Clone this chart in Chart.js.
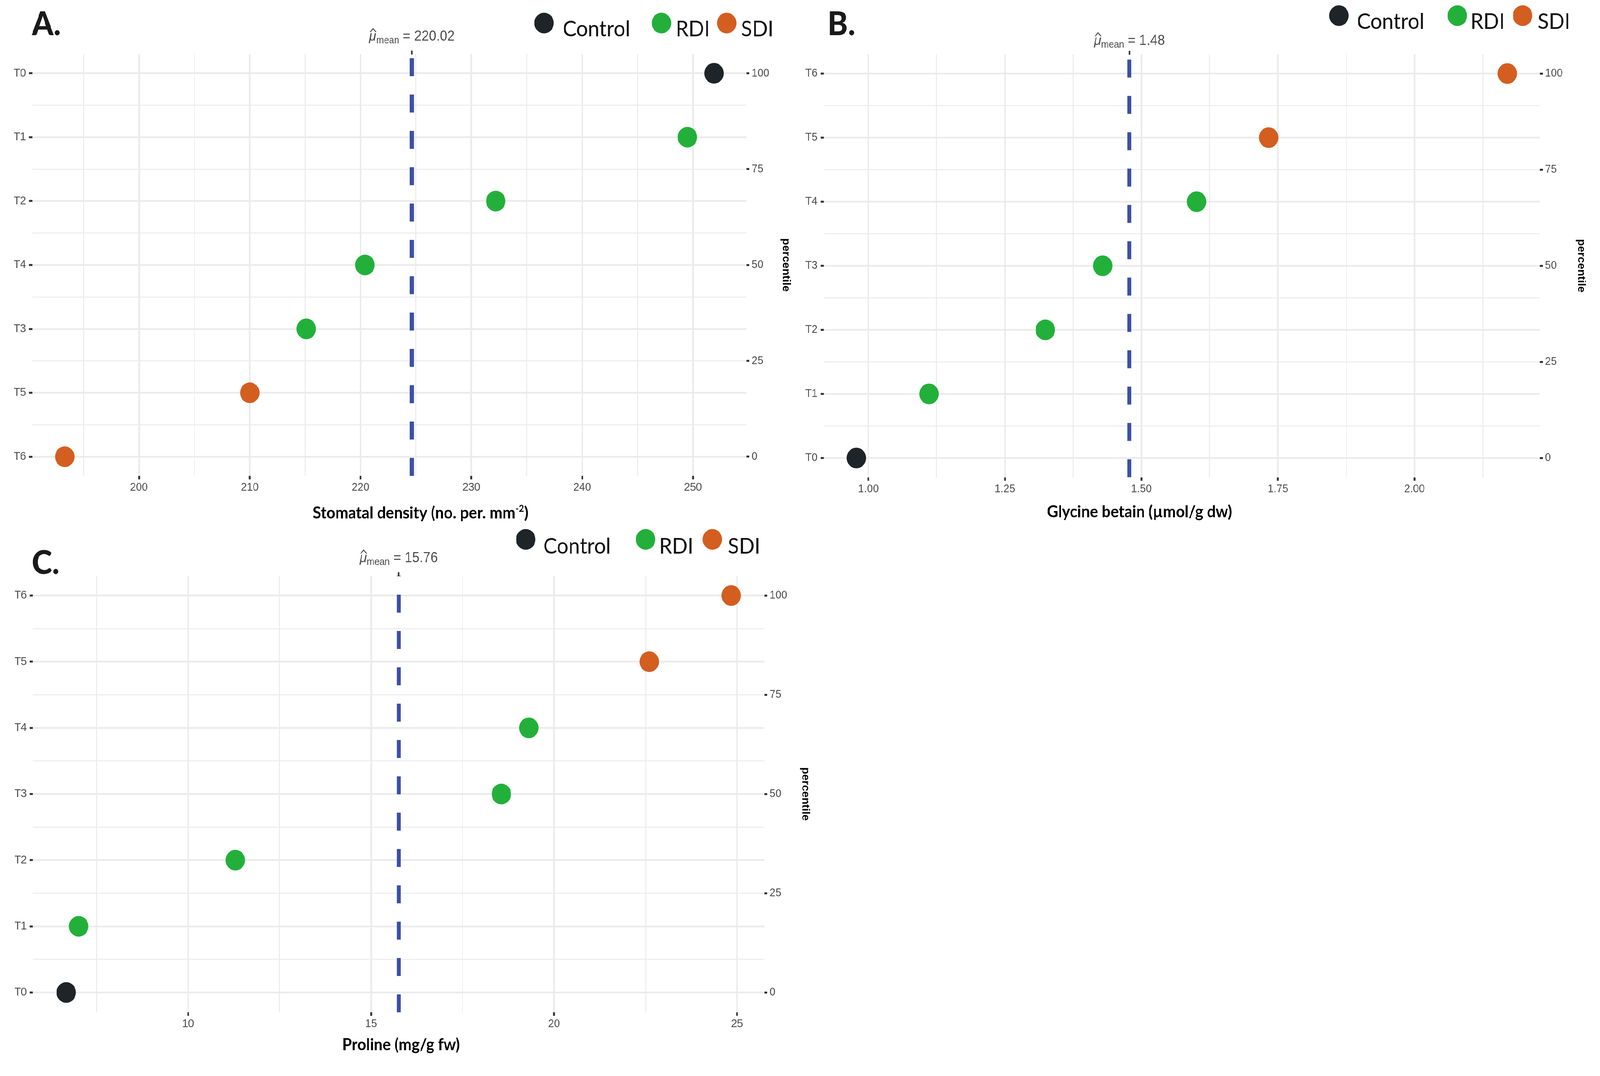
<!DOCTYPE html>
<html>
<head>
<meta charset="utf-8">
<script src="https://cdn.jsdelivr.net/npm/chart.js@4.4.1/dist/chart.umd.min.js"></script>
<style>
  html, body { margin: 0; padding: 0; background: #ffffff; overflow: hidden; }
  #page { width: 4364px; height: 2754px; position: absolute; left: 0; top: 0; transform-origin: 0 0; background: #ffffff; }
  canvas { position: absolute; }
</style>
</head>
<body>
<div id="page">
  <canvas id="panelA"></canvas>
  <canvas id="panelB"></canvas>
  <canvas id="panelC"></canvas>
</div>
<script>
// groups and colours
const groups = ['Control', 'RDI', 'SDI'];
const groupColors = ['#1e2427', '#22b03a', '#d35e20'];
const treatmentGroup = { T0: 'Control', T1: 'RDI', T2: 'RDI', T3: 'RDI', T4: 'RDI', T5: 'SDI', T6: 'SDI' };
const percentileTicks = [0, 25, 50, 75, 100];

// A. rows listed from top to bottom
const stomataTreatments = ['T0', 'T1', 'T2', 'T4', 'T3', 'T5', 'T6'];
const stomataValues = [251.9, 249.5, 232.2, 220.4, 215.1, 210.0, 193.3];
const stomataTicks = [200, 210, 220, 230, 240, 250];
const stomataMeanText = '220.02';

// B.
const glycineTreatments = ['T6', 'T5', 'T4', 'T3', 'T2', 'T1', 'T0'];
const glycineValues = [2.170, 1.733, 1.601, 1.429, 1.324, 1.111, 0.978];
const glycineTicks = [1.00, 1.25, 1.50, 1.75, 2.00];
const glycineMeanText = '1.48';

// C.
const prolineTreatments = ['T6', 'T5', 'T4', 'T3', 'T2', 'T1', 'T0'];
const prolineValues = [24.84, 22.60, 19.31, 18.56, 11.29, 7.01, 6.67];
const prolineTicks = [10, 15, 20, 25];
const prolineMeanText = '15.76';

const panels = [
  {
    id: 'panelA', letter: 'A.',
    treatments: stomataTreatments, values: stomataValues, ticks: stomataTicks, decimals: 0,
    meanText: stomataMeanText,
    title: [['Stomatal density (no. per. mm', false], ['-2', true], [')', false]],
    box: { left: 0, top: 0, width: 2182, height: 1377 },
    plot: { l: 88, t: 138.5, r: 2036, b: 1218 },
    letterPos: { x: 87, y: 90 },
    legendPos: { dots: [1484, 1804, 1982], texts: [1535, 1843, 2021], dotY: 59, baseline: 93 },
    meanBaseline: 104,
    titlePos: { x: 1147, y: 1327 },
    pctCenter: 2143
  },
  {
    id: 'panelB', letter: 'B.',
    treatments: glycineTreatments, values: glycineValues, ticks: glycineTicks, decimals: 2,
    meanText: glycineMeanText,
    title: [['Glycine betain (\u00b5mol/g dw)', false]],
    box: { left: 2182, top: 0, width: 2182, height: 1377 },
    plot: { l: 65, t: 139, r: 2018, b: 1221.5 },
    letterPos: { x: 75, y: 90 },
    legendPos: { dots: [1470, 1793, 1971], texts: [1519, 1829, 2012], dotY: 40, baseline: 74 },
    meanBaseline: 115,
    titlePos: { x: 926, y: 1324 },
    pctCenter: 2130
  },
  {
    id: 'panelC', letter: 'C.',
    treatments: prolineTreatments, values: prolineValues, ticks: prolineTicks, decimals: 0,
    meanText: prolineMeanText,
    title: [['Proline (mg/g fw)', false]],
    box: { left: 0, top: 1330, width: 2240, height: 1424 },
    plot: { l: 90, t: 143.5, r: 2085, b: 1261 },
    letterPos: { x: 87, y: 139 },
    legendPos: { dots: [1434, 1761, 1943], texts: [1482, 1798, 1985], dotY: 50.5, baseline: 87 },
    meanBaseline: 109,
    titlePos: { x: 1094, y: 1358 },
    pctCenter: 2196
  }
];

// the browser caps the viewport width, so stretch the 4364 x 2754 layout over it
const vw = window.innerWidth || 4364;
const vh = window.innerHeight || 2754;
document.getElementById('page').style.transform = 'scale(' + (vw / 4364) + ',' + (vh / 2754) + ')';

const tickFont = { family: '"Liberation Sans", Arial, sans-serif', size: 29 };
const gridStyle = {
  color: '#ebebeb',
  lineWidth: c => (c.tick && c.tick.isMajor ? 4.5 : 2.5),
  tickColor: c => (c.tick && c.tick.isMajor ? '#333333' : 'rgba(0,0,0,0)'),
  tickWidth: 5,
  tickLength: 9
};

function drawMeanLabel(ctx, x, baseline, text) {
  ctx.save();
  ctx.fillStyle = '#4d4d4d';
  ctx.strokeStyle = '#4d4d4d';
  ctx.textBaseline = 'alphabetic';
  ctx.textAlign = 'left';
  ctx.font = 'italic 36px "Liberation Sans", Arial, sans-serif';
  const wMu = ctx.measureText('\u03bc').width;
  ctx.font = '25px "Liberation Sans", Arial, sans-serif';
  const wSub = ctx.measureText('mean').width;
  ctx.font = '36px "Liberation Sans", Arial, sans-serif';
  const rest = ' = ' + text;
  const wRest = ctx.measureText(rest).width;
  const x0 = x - (wMu + wSub + wRest) / 2;
  ctx.font = 'italic 36px "Liberation Sans", Arial, sans-serif';
  ctx.fillText('\u03bc', x0, baseline);
  ctx.lineWidth = 2.5;
  ctx.beginPath();
  ctx.moveTo(x0 + 3, baseline - 22);
  ctx.lineTo(x0 + 11, baseline - 31);
  ctx.lineTo(x0 + 19, baseline - 22);
  ctx.stroke();
  ctx.font = '25px "Liberation Sans", Arial, sans-serif';
  ctx.fillText('mean', x0 + wMu, baseline + 7);
  ctx.font = '36px "Liberation Sans", Arial, sans-serif';
  ctx.fillText(rest, x0 + wMu + wSub, baseline);
  ctx.restore();
}

function buildPanel(p) {
  const canvas = document.getElementById(p.id);
  canvas.width = p.box.width;
  canvas.height = p.box.height;
  canvas.style.left = p.box.left + 'px';
  canvas.style.top = p.box.top + 'px';
  canvas.style.width = p.box.width + 'px';
  canvas.style.height = p.box.height + 'px';

  const n = p.treatments.length;
  const rowPct = i => 100 - i * 100 / (n - 1);

  const datasets = groups.map((g, gi) => ({
    label: g,
    data: p.treatments
      .map((t, i) => ({ x: p.values[i], y: rowPct(i), t: t }))
      .filter(d => treatmentGroup[d.t] === g),
    backgroundColor: groupColors[gi],
    borderWidth: 0,
    pointRadius: 26.5,
    pointHoverRadius: 26.5,
    clip: false
  }));

  const lo = Math.min(...p.values);
  const hi = Math.max(...p.values);
  const xMin = lo - (hi - lo) * 0.05;
  const xMax = hi + (hi - lo) * 0.05;
  const mean = p.values.reduce((a, b) => a + b, 0) / n;

  const step = p.ticks[1] - p.ticks[0];
  const xTicks = p.ticks.map(v => ({ value: v, isMajor: true, text: v.toFixed(p.decimals) }));
  [p.ticks[0] - step / 2, ...p.ticks.map(v => v + step / 2)].forEach(v => {
    if (v >= xMin && v <= xMax) xTicks.push({ value: v, isMajor: false, text: '' });
  });
  xTicks.sort((a, b) => a.value - b.value);

  const yTicks = [];
  for (let i = 0; i < n; i++) {
    yTicks.push({ value: rowPct(i), isMajor: true, text: p.treatments[i] });
    if (i < n - 1) yTicks.push({ value: (rowPct(i) + rowPct(i + 1)) / 2, isMajor: false, text: '' });
  }
  yTicks.sort((a, b) => a.value - b.value);

  const decor = {
    id: 'decor' + p.id,
    beforeDatasetsDraw(chart) {
      const ctx = chart.ctx;
      const area = chart.chartArea;
      const x = chart.scales.x.getPixelForValue(mean);
      ctx.save();
      ctx.strokeStyle = '#3c50a8';
      ctx.lineWidth = 11;
      ctx.lineCap = 'butt';
      ctx.setLineDash([46, 47]);
      ctx.beginPath();
      ctx.moveTo(x, area.bottom);
      ctx.lineTo(x, area.top);
      ctx.stroke();
      ctx.setLineDash([]);
      ctx.fillStyle = '#333333';
      ctx.fillRect(x - 2, area.top - 9, 4, 10);
      ctx.restore();
      drawMeanLabel(ctx, x, p.meanBaseline, p.meanText);
    },
    afterDraw(chart) {
      const ctx = chart.ctx;
      ctx.save();
      ctx.textBaseline = 'alphabetic';
      ctx.textAlign = 'left';

      ctx.fillStyle = '#1a1a1a';
      ctx.font = '900 84px Lato, "Open Sans", sans-serif';
      ctx.fillText(p.letter, p.letterPos.x, p.letterPos.y);

      const lg = p.legendPos;
      groups.forEach((g, gi) => {
        ctx.fillStyle = groupColors[gi];
        ctx.beginPath();
        ctx.arc(lg.dots[gi], lg.dotY, 26.5, 0, Math.PI * 2);
        ctx.fill();
        ctx.fillStyle = '#111111';
        ctx.font = '56px Lato, "Open Sans", sans-serif';
        ctx.fillText(g, lg.texts[gi], lg.baseline);
      });

      const mainFont = 'bold 42px Lato, "Open Sans", sans-serif';
      const supFont = 'bold 25px Lato, "Open Sans", sans-serif';
      let total = 0;
      p.title.forEach(([s, sup]) => {
        ctx.font = sup ? supFont : mainFont;
        total += ctx.measureText(s).width;
      });
      let tx = p.titlePos.x - total / 2;
      ctx.fillStyle = '#000000';
      p.title.forEach(([s, sup]) => {
        ctx.font = sup ? supFont : mainFont;
        ctx.fillText(s, tx, p.titlePos.y - (sup ? 17 : 0));
        tx += ctx.measureText(s).width;
      });
      ctx.restore();
    }
  };

  return new Chart(canvas, {
    type: 'scatter',
    data: { datasets: datasets },
    plugins: [decor],
    options: {
      responsive: false,
      devicePixelRatio: 1,
      animation: false,
      events: [],
      layout: { padding: { top: p.plot.t, left: 0, right: 0, bottom: 0 } },
      plugins: { legend: { display: false }, tooltip: { enabled: false } },
      scales: {
        x: {
          type: 'linear', position: 'bottom', min: xMin, max: xMax,
          afterBuildTicks: s => { s.ticks = xTicks.map(t => Object.assign({}, t)); },
          afterFit: s => { s.height = p.box.height - p.plot.b; },
          border: { display: false },
          grid: gridStyle,
          ticks: {
            autoSkip: false, maxRotation: 0, padding: 4, color: '#4d4d4d', font: tickFont,
            callback: (v, i, ticks) => ticks[i].text
          }
        },
        y: {
          type: 'linear', position: 'left', min: -5, max: 105,
          afterBuildTicks: s => { s.ticks = yTicks.map(t => Object.assign({}, t)); },
          afterFit: s => { s.width = p.plot.l; },
          border: { display: false },
          grid: gridStyle,
          ticks: {
            autoSkip: false, padding: 8, color: '#4d4d4d', font: tickFont,
            callback: (v, i, ticks) => ticks[i].text
          }
        },
        yR: {
          type: 'linear', position: 'right', min: -5, max: 105,
          afterBuildTicks: s => { s.ticks = percentileTicks.map(v => ({ value: v, isMajor: true })); },
          afterFit: s => { s.width = p.box.width - p.plot.r; },
          border: { display: false },
          grid: { drawOnChartArea: false, tickColor: '#333333', tickWidth: 5, tickLength: 8 },
          ticks: { autoSkip: false, padding: 6, color: '#4d4d4d', font: tickFont },
          title: {
            display: true, text: 'percentile', color: '#000000',
            font: { family: '"Liberation Sans", Arial, sans-serif', size: 29, weight: 'bold' },
            padding: { top: (p.box.width - p.pctCenter) - 17.4, bottom: 0 }
          }
        }
      }
    }
  });
}

panels.forEach(buildPanel);
</script>
</body>
</html>
